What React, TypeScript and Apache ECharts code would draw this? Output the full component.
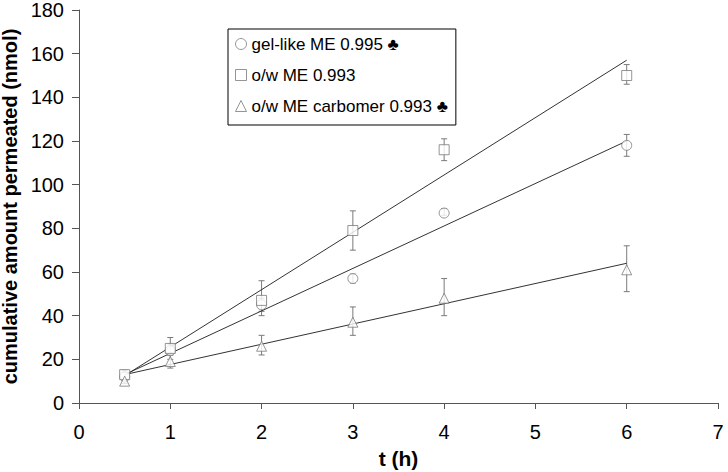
import React, { useEffect, useRef } from "react";
import * as echarts from "echarts";

const times = [0.5, 1, 2, 3, 4, 6];

const gelName = "gel-like ME 0.995 ♣";
const owName = "o/w ME 0.993";
const carbName = "o/w ME carbomer 0.993 ♣";

const gelMean = [12, 24, 45, 57, 87, 118];
const gelLow = [11, 22, 42, 55, 86, 113];
const gelHigh = [14, 27, 48, 59, 89, 123];

const owMean = [13, 25, 47, 79, 116, 150];
const owLow = [11, 20, 40, 70, 111, 146];
const owHigh = [15, 30, 56, 88, 121, 155];

const carbMean = [10, 19, 26, 37, 48, 61];
const carbLow = [9, 16, 22, 31, 40, 51];
const carbHigh = [12, 22, 31, 44, 57, 72];

const fitX = [0.5, 6];
const gelFit = [13, 120];
const owFit = [12.5, 157];
const carbFit = [13, 64];

const xTicks = [0, 1, 2, 3, 4, 5, 6, 7];
const yTicks = [0, 20, 40, 60, 80, 100, 120, 140, 160, 180];

const FONT = "'Liberation Sans', Arial, sans-serif";
const MARK = "#7a7a7a";

function pairs(xs: number[], ys: number[]) {
  return xs.map((x, i) => [x, ys[i]]);
}
function errData(lo: number[], hi: number[]) {
  return times.map((t, i) => [t, lo[i], hi[i]]);
}

const errRender = (params: any, api: any) => {
  const x = api.value(0);
  const p1 = api.coord([x, api.value(1)]);
  const p2 = api.coord([x, api.value(2)]);
  const cap = 3;
  const style = { stroke: MARK, lineWidth: 1 };
  return {
    type: "group",
    children: [
      { type: "line", shape: { x1: p1[0], y1: p1[1], x2: p2[0], y2: p2[1] }, style },
      { type: "line", shape: { x1: p1[0] - cap, y1: p1[1], x2: p1[0] + cap, y2: p1[1] }, style },
      { type: "line", shape: { x1: p2[0] - cap, y1: p2[1], x2: p2[0] + cap, y2: p2[1] }, style },
    ],
  };
};

export default function App() {
  const ref = useRef<HTMLDivElement>(null);
  useEffect(() => {
    if (!ref.current) return;
    const chart = echarts.init(ref.current, undefined, { renderer: "svg" });
    const scatter = (name: string, symbol: string, ys: number[]) => ({
      name,
      type: "scatter",
      symbol,
      symbolSize: 10,
      z: 5,
      itemStyle: { color: "#fff", borderColor: MARK, borderWidth: 1 },
      data: pairs(times, ys),
    });
    const fit = (ys: number[]) => ({
      type: "line",
      symbol: "none",
      z: 4,
      lineStyle: { color: "#333", width: 1 },
      data: pairs(fitX, ys),
    });
    const err = (lo: number[], hi: number[]) => ({
      type: "custom",
      z: 3,
      renderItem: errRender,
      data: errData(lo, hi),
    });
    chart.setOption({
      animation: false,
      textStyle: { fontFamily: FONT },
      grid: { left: 79, right: 10, top: 10, bottom: 69, containLabel: false, outerBoundsMode: "none" },
      legend: {
        data: [
          { name: gelName, icon: "circle" },
          { name: owName, icon: "rect" },
          { name: carbName, icon: "triangle" },
        ],
        orient: "vertical",
        left: 228,
        top: 29,
        padding: [5, 8, 9, 7],
        itemGap: 11,
        itemWidth: 11,
        itemHeight: 11,
        borderColor: "#000",
        borderWidth: 1,
        textStyle: { fontFamily: FONT, fontSize: 17, color: "#000", lineHeight: 20 },
        itemStyle: { color: "#fff", borderColor: MARK, borderWidth: 1 },
      },
      xAxis: {
        type: "value",
        min: 0,
        max: 7,
        interval: 1,
        name: "t (h)",
        nameLocation: "middle",
        nameGap: 45,
        nameTextStyle: { fontFamily: FONT, fontSize: 21, fontWeight: "bold", color: "#000" },
        axisLine: { show: true, lineStyle: { color: "#555" } },
        axisTick: { show: true, length: 6, lineStyle: { color: "#555" } },
        axisLabel: { fontFamily: FONT, fontSize: 20, color: "#000", margin: 19 },
        splitLine: { show: false },
        data: xTicks,
      },
      yAxis: {
        type: "value",
        min: 0,
        max: 180,
        interval: 20,
        name: "cumulative amount permeated (nmol)",
        nameLocation: "middle",
        nameGap: 54,
        nameTextStyle: { fontFamily: FONT, fontSize: 20, fontWeight: "bold", color: "#000" },
        axisLine: { show: true, lineStyle: { color: "#555" } },
        axisTick: { show: true, length: 7, lineStyle: { color: "#555" } },
        axisLabel: { fontFamily: FONT, fontSize: 20, color: "#000", margin: 15 },
        splitLine: { show: false },
        data: yTicks,
      },
      series: [
        err(gelLow, gelHigh),
        err(owLow, owHigh),
        err(carbLow, carbHigh),
        fit(gelFit),
        fit(owFit),
        fit(carbFit),
        scatter(gelName, "circle", gelMean),
        scatter(owName, "rect", owMean),
        scatter(carbName, "triangle", carbMean),
      ],
    });
    return () => chart.dispose();
  }, []);
  return <div ref={ref} style={{ width: 728, height: 472, position: "absolute", left: 0, top: 0 }} />;
}
